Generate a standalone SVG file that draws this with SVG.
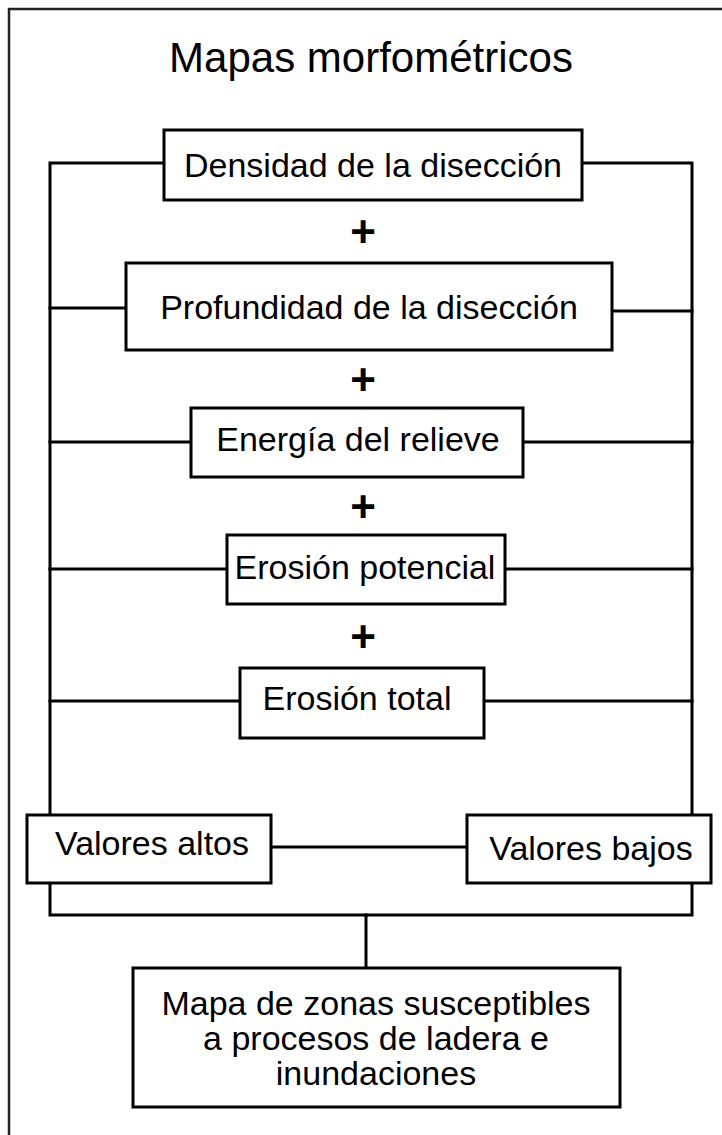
<svg xmlns="http://www.w3.org/2000/svg" width="722" height="1135" viewBox="0 0 722 1135">
<style>
.box{fill:#fff;stroke:#000;stroke-width:3}
.ln{fill:none;stroke:#000;stroke-width:3;stroke-linecap:square}
.t{font-family:"Liberation Sans",Arial,sans-serif;font-size:34px;fill:#000;text-anchor:middle}
.plus{font-family:"Liberation Sans",Arial,sans-serif;font-size:44px;font-weight:bold;fill:#000;text-anchor:middle}
</style>
<rect x="0" y="0" width="722" height="1135" fill="#fff"/>
<path d="M9,1140 V9 H730" fill="none" stroke="#222" stroke-width="2.5"/>
<text x="371" y="72" class="t" style="font-size:42px">Mapas morfométricos</text>
<g id="connectors">
<path class="ln" d="M164,163 H50 V815"/>
<path class="ln" d="M582,163 H692 V815"/>
<path class="ln" d="M50,308 H126"/>
<path class="ln" d="M612,311 H692"/>
<path class="ln" d="M50,442 H191"/>
<path class="ln" d="M523,442 H692"/>
<path class="ln" d="M50,569 H227"/>
<path class="ln" d="M505,569 H692"/>
<path class="ln" d="M50,701 H240"/>
<path class="ln" d="M484,701 H692"/>
<path class="ln" d="M271,847 H467"/>
<path class="ln" d="M50,883 V915 H692 V883"/>
<path class="ln" d="M366,915 V968"/>
</g>
<g id="plus-signs">
<text x="363" y="247" class="plus">+</text>
<text x="363" y="395" class="plus">+</text>
<text x="363" y="522" class="plus">+</text>
<text x="363" y="652" class="plus">+</text>
</g>
<g id="n-densidad"><rect class="box" x="164" y="130" width="418" height="70"/><text x="373" y="177" class="t">Densidad de la disección</text></g>
<g id="n-profundidad"><rect class="box" x="126" y="263" width="486" height="87"/><text x="369" y="319" class="t">Profundidad de la disección</text></g>
<g id="n-energia"><rect class="box" x="191" y="408" width="332" height="69"/><text x="358" y="451" class="t">Energía del relieve</text></g>
<g id="n-erosion-potencial"><rect class="box" x="227" y="535" width="278" height="69"/><text x="365" y="579" class="t">Erosión potencial</text></g>
<g id="n-erosion-total"><rect class="box" x="240" y="668" width="244" height="70"/><text x="357" y="710" class="t">Erosión total</text></g>
<g id="n-valores-altos"><rect class="box" x="27" y="815" width="244" height="68"/><text x="152" y="855" class="t">Valores altos</text></g>
<g id="n-valores-bajos"><rect class="box" x="467" y="815" width="244" height="68"/><text x="591" y="860" class="t">Valores bajos</text></g>
<g id="n-mapa"><rect class="box" x="133" y="968" width="487" height="139"/>
<text x="376" y="1015" class="t">Mapa de zonas susceptibles</text>
<text x="376" y="1050" class="t">a procesos de ladera e</text>
<text x="376" y="1085" class="t">inundaciones</text></g>
</svg>
